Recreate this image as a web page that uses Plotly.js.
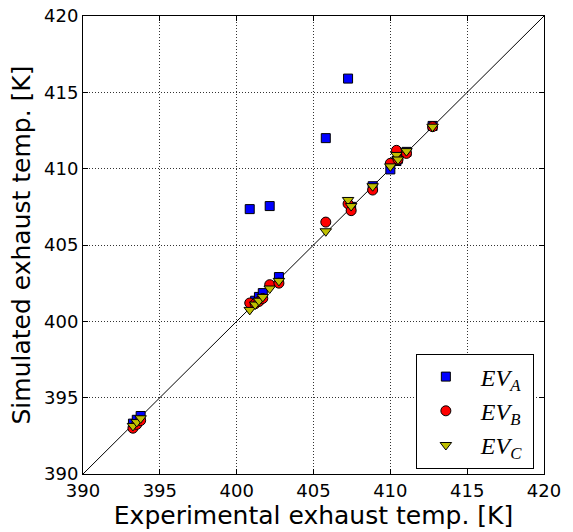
<!DOCTYPE html>
<html>
<head>
<meta charset="utf-8">
<script src="https://cdn.plot.ly/plotly-3.0.1.min.js"></script>
<style>html,body{margin:0;padding:0;background:#fff;}#chart{width:573px;height:532px;}</style>
</head>
<body>
<div id="chart"></div>
<script>
// Experimental exhaust temperatures [K]
const experimental = [393.25, 393.5, 393.75, 400.85, 401.2, 401.45, 401.7, 402.15, 402.75, 405.8, 407.25, 407.45, 408.85, 410.0, 410.4, 410.5, 411.05, 412.75];
// Simulated exhaust temperatures [K]
const evA = [393.3, 393.55, 393.8, 407.35, 401.35, 401.6, 401.85, 407.55, 402.9, 412.0, 415.9, 407.5, 408.85, 409.95, 410.5, 410.65, 411.1, 412.8];
const evB = [393.0, 393.25, 393.5, 401.2, 401.15, 401.3, 401.5, 402.4, 402.5, 406.5, 407.7, 407.25, 408.6, 410.35, 411.2, 410.6, 411.0, 412.75];
const evC = [393.15, 393.4, 393.65, 400.75, 401.1, 401.35, 401.6, 402.15, 402.65, 405.9, 407.95, 407.55, 408.85, 410.15, 410.9, 410.6, 411.15, 412.75];
const seriesNames = ["<i>EV</i><sub><i>A</i></sub>", "<i>EV</i><sub><i>B</i></sub>", "<i>EV</i><sub><i>C</i></sub>"];
const axisRange = [390, 420];

const edge = {color: "#000", width: 1};
const pad = "\u00a0";
const tail = "\u00a0";
const traces = [
  {x: axisRange, y: axisRange, mode: "lines", line: {color: "#000", width: 1}, showlegend: false, hoverinfo: "skip"},
  {x: experimental, y: evA, mode: "markers", name: pad + seriesNames[0] + tail,
   marker: {symbol: "square", size: 9, color: "#0000ff", line: edge}},
  {x: experimental, y: evB, mode: "markers", name: pad + seriesNames[1] + tail,
   marker: {symbol: "circle", size: 10, color: "#ff0000", line: edge}},
  {x: experimental, y: evC, mode: "markers", name: pad + seriesNames[2] + tail,
   marker: {symbol: "triangle-down", size: 10, color: "#bfbf00", line: edge}}
];

const axisCommon = {
  range: axisRange, dtick: 5, tick0: 390,
  showline: true, mirror: "allticks", linecolor: "#000", linewidth: 1,
  ticks: "inside", ticklen: 5, tickcolor: "#000", tickwidth: 1,
  showgrid: true, gridcolor: "#333", gridwidth: 1, griddash: "1px,2px",
  zeroline: false,
  tickfont: {family: "DejaVu Sans", size: 18, color: "#000"}
};

const layout = {
  width: 573, height: 532,
  margin: {l: 83, r: 29, t: 16, b: 58},
  paper_bgcolor: "#fff", plot_bgcolor: "#fff",
  xaxis: Object.assign({}, axisCommon, {
    title: {text: "Experimental exhaust temp. [K]", font: {family: "DejaVu Sans", size: 25, color: "#000"}, standoff: 3}
  }),
  yaxis: Object.assign({}, axisCommon, {
    title: {text: "Simulated exhaust temp. [K]", font: {family: "DejaVu Sans", size: 25, color: "#000"}, standoff: 6}
  }),
  legend: {
    x: 0.978, y: 0.012, xanchor: "right", yanchor: "bottom",
    bordercolor: "#000", borderwidth: 1, bgcolor: "#fff",
    font: {family: "Liberation Serif", size: 24, color: "#000"},
    itemwidth: 48
  },
  showlegend: true
};

Plotly.newPlot("chart", traces, layout, {displayModeBar: false, staticPlot: true});
</script>
</body>
</html>
